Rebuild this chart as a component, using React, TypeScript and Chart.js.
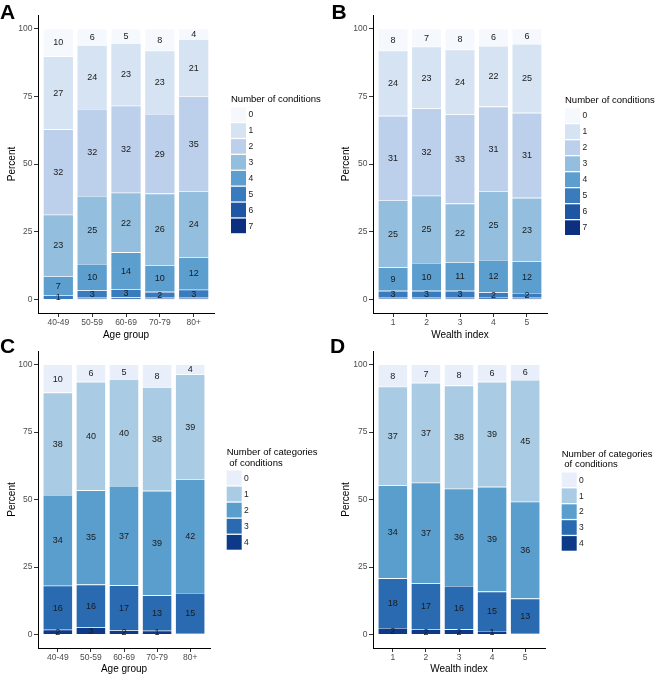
import React, { useEffect, useRef } from "react";
import { Chart, registerables } from "chart.js";

Chart.register(...registerables);

// ---------- data ----------
const ageGroups = ["40-49", "50-59", "60-69", "70-79", "80+"];
const wealthIndex = ["1", "2", "3", "4", "5"];
const yTicks = [0, 25, 50, 75, 100];

const conditionLevels = ["0", "1", "2", "3", "4", "5", "6", "7"];
const categoryLevels = ["0", "1", "2", "3", "4"];

// Panel A: number of conditions by age group (rows = level 0..7, columns = age groups)
const condByAge: number[][] = [
  [10.3, 6.1, 5.4, 8.2, 3.9],
  [26.9, 23.6, 23.1, 23.3, 21.1],
  [31.5, 32.1, 32.1, 29.4, 35.0],
  [22.7, 25.1, 22.0, 26.4, 24.4],
  [7.0, 9.8, 13.6, 9.9, 12.0],
  [1.4, 2.7, 3.1, 2.2, 3.0],
  [0.2, 0.5, 0.6, 0.5, 0.5],
  [0.0, 0.1, 0.1, 0.1, 0.1],
];

// Panel B: number of conditions by wealth index
const condByWealth: number[][] = [
  [8.2, 6.7, 7.8, 6.4, 5.7],
  [24.0, 22.8, 23.9, 22.4, 25.4],
  [31.1, 32.2, 32.9, 31.2, 31.4],
  [24.9, 24.8, 21.6, 25.4, 23.4],
  [8.6, 10.3, 10.6, 12.0, 11.7],
  [2.6, 2.6, 2.6, 2.0, 1.8],
  [0.6, 0.5, 0.5, 0.4, 0.5],
  [0.0, 0.1, 0.1, 0.2, 0.1],
];

// Panel C: number of categories of conditions by age group
const catByAge: number[][] = [
  [10.4, 6.4, 5.4, 8.4, 3.7],
  [37.9, 40.2, 39.6, 38.4, 38.8],
  [33.6, 34.9, 36.8, 38.7, 42.1],
  [16.3, 15.9, 16.6, 13.1, 15.1],
  [1.8, 2.6, 1.6, 1.4, 0.3],
];

// Panel D: number of categories of conditions by wealth index
const catByWealth: number[][] = [
  [8.2, 6.8, 7.8, 6.4, 5.7],
  [36.6, 37.0, 38.2, 38.9, 45.1],
  [34.4, 37.3, 36.0, 38.8, 35.9],
  [18.4, 16.9, 16.1, 14.6, 12.7],
  [2.4, 2.0, 1.9, 1.3, 0.6],
];

const condColors = ["#F5F9FE", "#D5E3F2", "#BDD0EB", "#93BEDD", "#5C9ECE", "#3A7BBE", "#1F56A4", "#0C2F7F"];
const catColors = ["#E8EEFA", "#A9CBE3", "#5A9ECE", "#2A6AB0", "#0D3A88"];

const FONT = '"Liberation Sans", Arial, Helvetica, sans-serif';

type PanelCfg = {
  letter: string;
  left: number;
  top: number;
  width: number;
  height: number;
  letterX: number;
  letterY: number;
  labels: string[];
  series: number[][];
  colors: string[];
  levels: string[];
  xTitle: string;
  legendTitle: string[];
  padTop: number;
  padRight: number;
  yWidth: number;
  yTitlePad: number;
  xHeight: number;
  xTitlePad: number;
  legX: number;
  legLabelX: number;
  legTitleY: number;
  legTitleLH: number;
  legBoxTop: number;
  legPitch: number;
};

const panels: PanelCfg[] = [
  {
    letter: "A", left: 0, top: 0, width: 330, height: 345, letterX: 0, letterY: 18.5,
    labels: ageGroups, series: condByAge, colors: condColors, levels: conditionLevels,
    xTitle: "Age group", legendTitle: ["Number of conditions"],
    padTop: 15, padRight: 116, yWidth: 38, yTitlePad: 6, xHeight: 32, xTitlePad: 4,
    legX: 231, legLabelX: 248.5, legTitleY: 99.5, legTitleLH: 10.6, legBoxTop: 107.3, legPitch: 15.9,
  },
  {
    letter: "B", left: 330, top: 0, width: 331, height: 345, letterX: 1.5, letterY: 18.5,
    labels: wealthIndex, series: condByWealth, colors: condColors, levels: conditionLevels,
    xTitle: "Wealth index", legendTitle: ["Number of conditions"],
    padTop: 15, padRight: 114, yWidth: 43, yTitlePad: 10.5, xHeight: 32, xTitlePad: 4,
    legX: 235, legLabelX: 252.5, legTitleY: 100.5, legTitleLH: 10.6, legBoxTop: 108.3, legPitch: 16.0,
  },
  {
    letter: "C", left: 0, top: 337, width: 330, height: 338, letterX: 0, letterY: 15.5,
    labels: ageGroups, series: catByAge, colors: catColors, levels: categoryLevels,
    xTitle: "Age group", legendTitle: ["Number of categories", " of conditions"],
    padTop: 14, padRight: 120, yWidth: 38, yTitlePad: 6, xHeight: 27, xTitlePad: 0,
    legX: 226.7, legLabelX: 244, legTitleY: 115.7, legTitleLH: 10.6, legBoxTop: 133.5, legPitch: 16.1,
  },
  {
    letter: "D", left: 330, top: 337, width: 331, height: 338, letterX: 0, letterY: 16,
    labels: wealthIndex, series: catByWealth, colors: catColors, levels: categoryLevels,
    xTitle: "Wealth index", legendTitle: ["Number of categories", " of conditions"],
    padTop: 14, padRight: 116, yWidth: 43, yTitlePad: 10.5, xHeight: 27, xTitlePad: 0,
    legX: 231.7, legLabelX: 249, legTitleY: 117, legTitleLH: 10.6, legBoxTop: 135.5, legPitch: 15.9,
  },
];

const barLabelPlugin = {
  id: "barLabels",
  afterDatasetsDraw(chart: any) {
    const ctx = chart.ctx as CanvasRenderingContext2D;
    ctx.save();
    ctx.font = `9px ${FONT}`;
    ctx.fillStyle = "#1a1a1a";
    ctx.textAlign = "center";
    ctx.textBaseline = "middle";
    chart.data.datasets.forEach((ds: any, i: number) => {
      const meta = chart.getDatasetMeta(i);
      meta.data.forEach((el: any, j: number) => {
        const v = ds.data[j].y as number;
        if (v < 1) return;
        const p = el.getProps(["x", "y", "base"], true);
        ctx.fillText(String(Math.round(v)), p.x, (p.y + p.base) / 2 + 0.5);
      });
    });
    ctx.restore();
  },
};

function makeLegendPlugin(cfg: PanelCfg) {
  return {
    id: "panelLegend",
    afterDraw(chart: any) {
      const ctx = chart.ctx as CanvasRenderingContext2D;
      ctx.save();
      ctx.fillStyle = "#000";
      ctx.textAlign = "left";
      ctx.textBaseline = "alphabetic";
      ctx.font = `bold 21px ${FONT}`;
      ctx.fillText(cfg.letter, cfg.letterX, cfg.letterY);

      ctx.font = `9.5px ${FONT}`;
      ctx.textBaseline = "middle";
      cfg.legendTitle.forEach((t, k) => {
        ctx.fillText(t, cfg.legX, cfg.legTitleY + k * cfg.legTitleLH);
      });
      const boxH = cfg.legPitch - 1.3;
      cfg.levels.forEach((name, k) => {
        const top = cfg.legBoxTop + k * cfg.legPitch;
        ctx.fillStyle = cfg.colors[k];
        ctx.fillRect(cfg.legX, top, 15, boxH);
        ctx.fillStyle = "#222";
        ctx.font = `8.5px ${FONT}`;
        ctx.fillText(name, cfg.legLabelX, top + boxH / 2 + 0.5);
      });
      ctx.restore();
    },
  };
}

function Panel({ cfg }: { cfg: PanelCfg }) {
  const ref = useRef<HTMLCanvasElement>(null);
  useEffect(() => {
    const canvas = ref.current;
    if (!canvas) return;
    const n = cfg.labels.length;
    const order = cfg.levels.map((_, k) => k).reverse();
    const datasets = order.map((k) => ({
      label: cfg.levels[k],
      data: cfg.labels.map((_, j) => ({ x: j, y: cfg.series[k][j] })),
      backgroundColor: cfg.colors[k],
      borderColor: "#ffffff",
      borderWidth: 0.6,
      barPercentage: 0.9,
      categoryPercentage: 1,
    }));
    const axisGrid = {
      display: true,
      drawOnChartArea: false,
      drawTicks: true,
      tickLength: 4,
      color: "#333333",
      lineWidth: 1,
      offset: false,
    };
    const chart = new Chart(canvas, {
      type: "bar",
      data: { datasets } as any,
      options: {
        animation: false,
        responsive: false,
        maintainAspectRatio: false,
        events: [],
        layout: { padding: { left: 0, top: cfg.padTop, right: cfg.padRight, bottom: 0 } },
        plugins: {
          legend: { display: false },
          tooltip: { enabled: false },
        },
        scales: {
          x: {
            type: "linear",
            stacked: true,
            offset: false,
            min: -0.6,
            max: n - 0.4,
            afterBuildTicks: (s: any) => {
              s.ticks = cfg.labels.map((_, i) => ({ value: i }));
            },
            afterFit: (s: any) => {
              s.height = cfg.xHeight;
            },
            ticks: {
              autoSkip: false,
              maxRotation: 0,
              padding: 1,
              color: "#4D4D4D",
              font: { family: FONT, size: 8.5 },
              callback: (v: any) => cfg.labels[Math.round(Number(v))] ?? "",
            },
            grid: axisGrid,
            border: { display: true, color: "#000000", width: 1 },
            title: {
              display: true,
              text: cfg.xTitle,
              color: "#000000",
              font: { family: FONT, size: 10 },
              padding: { top: 0, bottom: cfg.xTitlePad },
            },
          },
          y: {
            type: "linear",
            stacked: true,
            min: -5,
            max: 105,
            afterBuildTicks: (s: any) => {
              s.ticks = yTicks.map((v) => ({ value: v }));
            },
            afterFit: (s: any) => {
              s.width = cfg.yWidth;
            },
            ticks: {
              padding: 1.5,
              color: "#4D4D4D",
              font: { family: FONT, size: 8.5 },
              callback: (v: any) => String(v),
            },
            grid: axisGrid,
            border: { display: true, color: "#000000", width: 1 },
            title: {
              display: true,
              text: "Percent",
              color: "#000000",
              font: { family: FONT, size: 10 },
              padding: { top: cfg.yTitlePad, bottom: 0 },
            },
          },
        },
      } as any,
      plugins: [barLabelPlugin as any, makeLegendPlugin(cfg) as any],
    });
    return () => chart.destroy();
  }, [cfg]);
  return (
    <canvas
      ref={ref}
      width={cfg.width}
      height={cfg.height}
      style={{ position: "absolute", left: cfg.left, top: cfg.top, width: cfg.width, height: cfg.height }}
    />
  );
}

export default function App() {
  return (
    <div style={{ position: "absolute", left: 0, top: 0, width: 661, height: 675, background: "#ffffff", overflow: "hidden" }}>
      {panels.map((p) => (
        <Panel key={p.letter} cfg={p} />
      ))}
    </div>
  );
}
